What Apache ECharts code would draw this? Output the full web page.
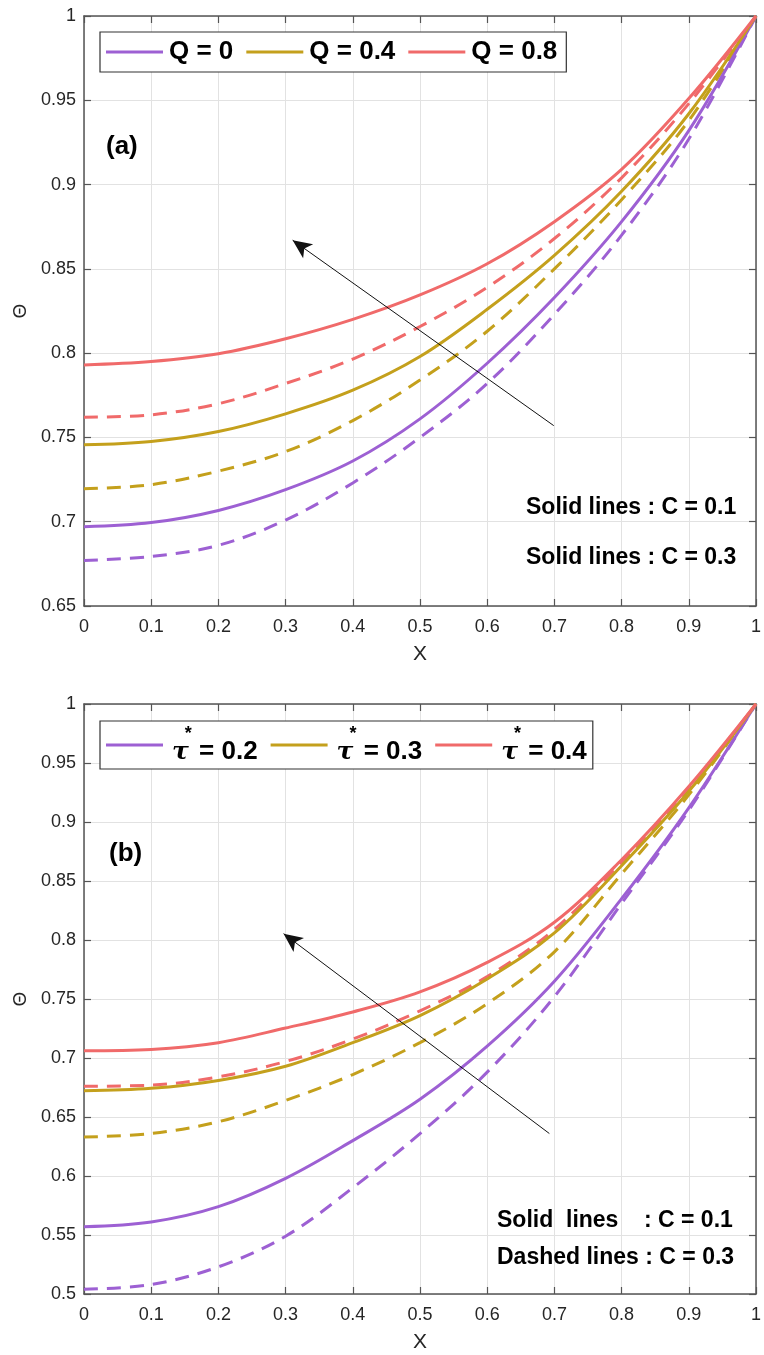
<!DOCTYPE html>
<html>
<head>
<meta charset="utf-8">
<title>Θ profiles</title>
<script src="https://cdn.jsdelivr.net/npm/echarts@6/dist/echarts.min.js"></script>
<style>
  html, body { margin: 0; padding: 0; background: #fff; }
  #chart { width: 764px; height: 1355px; }
</style>
</head>
<body>
<div id="chart"></div>
<script>
// Dimensionless position X (shared by both panels)
const xs = [0, 0.1, 0.2, 0.3, 0.4, 0.5, 0.6, 0.7, 0.8, 0.9, 1];

// Panel (a): effect of Q — solid C = 0.1, dashed C = 0.3
const qNames = ['Q = 0', 'Q = 0.4', 'Q = 0.8'];
const qSolid0  = [0.697, 0.6995, 0.7067, 0.719, 0.736, 0.761, 0.794, 0.833, 0.878, 0.932, 1];
const qDash0   = [0.677, 0.6794, 0.686, 0.701, 0.723, 0.750, 0.782, 0.823, 0.870, 0.927, 1];
const qSolid04 = [0.7456, 0.7476, 0.7535, 0.764, 0.778, 0.798, 0.826, 0.858, 0.896, 0.942, 1];
const qDash04  = [0.7195, 0.722, 0.730, 0.7416, 0.760, 0.784, 0.813, 0.850, 0.891, 0.938, 1];
const qSolid08 = [0.793, 0.795, 0.7996, 0.8085, 0.820, 0.8345, 0.853, 0.878, 0.909, 0.951, 1];
const qDash08  = [0.762, 0.7634, 0.770, 0.782, 0.7965, 0.8158, 0.839, 0.868, 0.904, 0.948, 1];

// Panel (b): effect of tau* — solid C = 0.1, dashed C = 0.3
const tNames = ['τ* = 0.2', 'τ* = 0.3', 'τ* = 0.4'];
const tSolid02 = [0.557, 0.561, 0.574, 0.598, 0.630, 0.665, 0.710, 0.765, 0.835, 0.912, 1];
const tDash02  = [0.504, 0.508, 0.523, 0.549, 0.590, 0.636, 0.688, 0.752, 0.831, 0.910, 1];
const tSolid03 = [0.6723, 0.6743, 0.681, 0.693, 0.713, 0.736, 0.767, 0.806, 0.863, 0.926, 1];
const tDash03  = [0.633, 0.636, 0.646, 0.664, 0.686, 0.713, 0.746, 0.790, 0.856, 0.923, 1];
const tSolid04 = [0.7062, 0.7073, 0.713, 0.7254, 0.739, 0.756, 0.781, 0.815, 0.868, 0.930, 1];
const tDash04  = [0.676, 0.677, 0.684, 0.697, 0.716, 0.740, 0.769, 0.809, 0.866, 0.928, 1];

// Axis ranges
const yRangeA = [0.65, 1];
const yRangeB = [0.5, 1];
const yStep = 0.05;
const xStep = 0.1;

// Trend arrows (tail -> head), in data coordinates
const arrowA = [[0.699, 0.757], [0.3105, 0.867]];
const arrowB = [[0.6925, 0.636], [0.297, 0.8054]];

const colors = ['#9d60d3', '#c4a01c', '#f06a6a'];
const AXIS = '#555555';
const TXT = '#262626';

const pairs = ys => xs.map((x, i) => [x, ys[i]]);
const fmt = v => String(+v.toFixed(2));
const SANS = 'Liberation Sans, Arial, sans-serif';

function baseAxes(gi, yr) {
  const line = { show: true, onZero: false, lineStyle: { color: AXIS, width: 1.5 } };
  const tick = { show: true, inside: true, length: 7, lineStyle: { color: AXIS, width: 1.2 } };
  const xMain = {
    type: 'value', gridIndex: gi, min: 0, max: 1, interval: xStep,
    name: 'X', nameLocation: 'middle', nameGap: 38,
    nameTextStyle: { fontFamily: SANS, fontSize: 21, color: TXT },
    axisLine: line, axisTick: tick,
    axisLabel: { margin: 12, fontFamily: SANS, fontSize: 18, color: TXT, formatter: fmt },
    splitLine: { show: true, lineStyle: { color: '#e2e2e2', width: 1 } }
  };
  const xTop = {
    type: 'value', gridIndex: gi, position: 'top', min: 0, max: 1, interval: xStep,
    axisLine: line, axisTick: tick, axisLabel: { show: false }, splitLine: { show: false }
  };
  const yMain = {
    type: 'value', gridIndex: gi, min: yr[0], max: yr[1], interval: yStep,
    name: 'Θ', nameLocation: 'middle', nameGap: 52, nameRotate: 90,
    nameTextStyle: { fontFamily: SANS, fontSize: 19, color: TXT },
    axisLine: line, axisTick: tick,
    axisLabel: { margin: 8, fontFamily: SANS, fontSize: 18, color: TXT, formatter: fmt },
    splitLine: { show: true, lineStyle: { color: '#e2e2e2', width: 1 } }
  };
  const yRight = {
    type: 'value', gridIndex: gi, position: 'right', min: yr[0], max: yr[1], interval: yStep,
    axisLine: line, axisTick: tick, axisLabel: { show: false }, splitLine: { show: false }
  };
  return { x: [xMain, xTop], y: [yMain, yRight] };
}

const axA = baseAxes(0, yRangeA);
const axB = baseAxes(1, yRangeB);

function curve(name, ys, color, dashed, xi, yi) {
  return {
    type: 'line', name, data: pairs(ys), xAxisIndex: xi, yAxisIndex: yi,
    smooth: 0.35, symbol: 'none', silent: true,
    lineStyle: { color, width: 3, type: dashed ? [14, 9] : 'solid', cap: 'butt' },
    itemStyle: { color }, z: dashed ? 3 : 4
  };
}

function arrowLine(ar, xi, yi) {
  return {
    type: 'line', data: [], xAxisIndex: xi, yAxisIndex: yi, silent: true,
    markLine: {
      silent: true, animation: false,
      symbol: ['none', 'arrow'], symbolSize: [13, 19],
      label: { show: false },
      lineStyle: { color: '#111', width: 1, type: 'solid' },
      data: [[{ coord: ar[0] }, { coord: ar[1] }]]
    }
  };
}

const series = [
  curve(qNames[0], qSolid0, colors[0], false, 0, 0),
  curve(qNames[1], qSolid04, colors[1], false, 0, 0),
  curve(qNames[2], qSolid08, colors[2], false, 0, 0),
  curve(qNames[0] + ' (C = 0.3)', qDash0, colors[0], true, 0, 0),
  curve(qNames[1] + ' (C = 0.3)', qDash04, colors[1], true, 0, 0),
  curve(qNames[2] + ' (C = 0.3)', qDash08, colors[2], true, 0, 0),
  arrowLine(arrowA, 0, 0),
  curve(tNames[0], tSolid02, colors[0], false, 2, 2),
  curve(tNames[1], tSolid03, colors[1], false, 2, 2),
  curve(tNames[2], tSolid04, colors[2], false, 2, 2),
  curve(tNames[0] + ' (C = 0.3)', tDash02, colors[0], true, 2, 2),
  curve(tNames[1] + ' (C = 0.3)', tDash03, colors[1], true, 2, 2),
  curve(tNames[2] + ' (C = 0.3)', tDash04, colors[2], true, 2, 2),
  arrowLine(arrowB, 2, 2)
];

const legendCommon = {
  orient: 'horizontal', icon: 'rect', itemWidth: 57, itemHeight: 3, itemGap: 13,
  backgroundColor: '#fff', borderColor: '#333', borderWidth: 1.2,
  selectedMode: false,
  textStyle: { fontFamily: SANS, fontWeight: 'bold', fontSize: 26, color: '#000', padding: [0, 0, 0, 1] }
};

const annot = (text, left, top) => ({
  text, left, top,
  textStyle: { fontFamily: SANS, fontWeight: 'bold', fontSize: 23, color: '#000' }
});

const option = {
  animation: false,
  backgroundColor: '#fff',
  grid: [
    { left: 84, top: 16, width: 674, height: 590, containLabel: false },
    { left: 84, top: 704, width: 674, height: 590, containLabel: false }
  ],
  xAxis: [axA.x[0], axA.x[1], axB.x[0], axB.x[1]],
  yAxis: [axA.y[0], axA.y[1], axB.y[0], axB.y[1]],
  legend: [
    Object.assign({}, legendCommon, {
      left: 100, top: 32, padding: [7, 9, 7, 6],
      data: qNames
    }),
    Object.assign({}, legendCommon, {
      left: 100, top: 721, padding: [4, 6, 4, 6],
      data: tNames,
      formatter: name => '{t|τ}{s|*}{b|' + name.slice(2) + '}',
      textStyle: {
        fontFamily: SANS, fontWeight: 'bold', fontSize: 26, color: '#000',
        rich: {
          t: { fontFamily: '"DejaVu Serif", serif', fontStyle: 'italic', fontSize: 25, color: '#000', lineHeight: 40, verticalAlign: 'bottom', padding: [0, 0, 0, 4] },
          s: { fontFamily: SANS, fontWeight: 'bold', fontSize: 18, color: '#000', lineHeight: 40, verticalAlign: 'top', padding: [0, 0, 0, -4] },
          b: { fontFamily: SANS, fontWeight: 'bold', fontSize: 26, color: '#000', lineHeight: 40, verticalAlign: 'bottom' }
        }
      }
    })
  ],
  title: [
    { text: '(a)', left: 101, top: 129, textStyle: { fontFamily: SANS, fontWeight: 'bold', fontSize: 26, color: '#000' } },
    { text: '(b)', left: 104, top: 836, textStyle: { fontFamily: SANS, fontWeight: 'bold', fontSize: 26, color: '#000' } },
    annot('Solid lines : C = 0.1', 521, 491),
    annot('Solid lines : C = 0.3', 521, 541),
    annot('Solid  lines    : C = 0.1', 492, 1204),
    annot('Dashed lines : C = 0.3', 492, 1241)
  ],
  series
};

const chart = echarts.init(document.getElementById('chart'), null, { renderer: 'canvas' });
chart.setOption(option);
</script>
</body>
</html>
